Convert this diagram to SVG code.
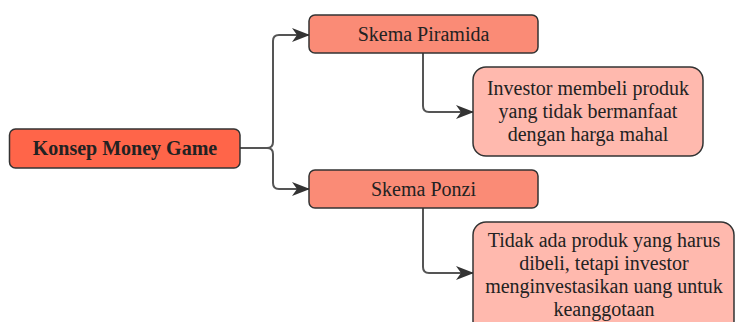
<svg xmlns="http://www.w3.org/2000/svg" width="736" height="322" viewBox="0 0 736 322">
<style>
.n rect{stroke:#333;stroke-width:1.5}
.root rect{fill:#FF6549}
.sub rect{fill:#FA8B76}
.leaf rect{fill:#FFB9AE}
text{font-family:"Liberation Serif","Times New Roman",serif;font-size:20px;fill:#222;text-anchor:middle}
.root text{font-weight:bold}
.c path{fill:none;stroke:#555;stroke-width:2}
</style>
<defs>
<marker id="ah" viewBox="0 0 18 14" refX="17" refY="7" markerWidth="18" markerHeight="14" markerUnits="userSpaceOnUse" orient="auto">
<path d="M0,0 L18,7 L0,14 L5,7 z" fill="#333"/>
</marker>
</defs>
<g class="c" id="connectors">
<path d="M240,148 H267 Q273,148 273,142 V41 Q273,35 279,35 H309" marker-end="url(#ah)"/>
<path d="M240,148 H267 Q273,148 273,154 V183 Q273,189 279,189 H309" marker-end="url(#ah)"/>
<path d="M423,53 V106 Q423,112 429,112 H473" marker-end="url(#ah)"/>
<path d="M423,208 V267 Q423,273 429,273 H473" marker-end="url(#ah)"/>
</g>
<g class="n root" id="konsep">
<rect x="9.5" y="129" width="230.5" height="39" rx="6"/>
<text x="125" y="155">Konsep Money Game</text>
</g>
<g class="n sub" id="piramida">
<rect x="309" y="15" width="229" height="38" rx="6"/>
<text x="423.5" y="41">Skema Piramida</text>
</g>
<g class="n sub" id="ponzi">
<rect x="309" y="170" width="229" height="38" rx="6"/>
<text x="423.5" y="196">Skema Ponzi</text>
</g>
<g class="n leaf" id="piramida-desc">
<rect x="473" y="67" width="230" height="89" rx="13"/>
<text x="588" y="95">Investor membeli produk</text>
<text x="588" y="118">yang tidak bermanfaat</text>
<text x="588" y="141">dengan harga mahal</text>
</g>
<g class="n leaf" id="ponzi-desc">
<rect x="473" y="222" width="261" height="112" rx="13"/>
<text x="604" y="247">Tidak ada produk yang harus</text>
<text x="604" y="270">dibeli, tetapi investor</text>
<text x="604" y="293">menginvestasikan uang untuk</text>
<text x="604" y="316">keanggotaan</text>
</g>
</svg>
